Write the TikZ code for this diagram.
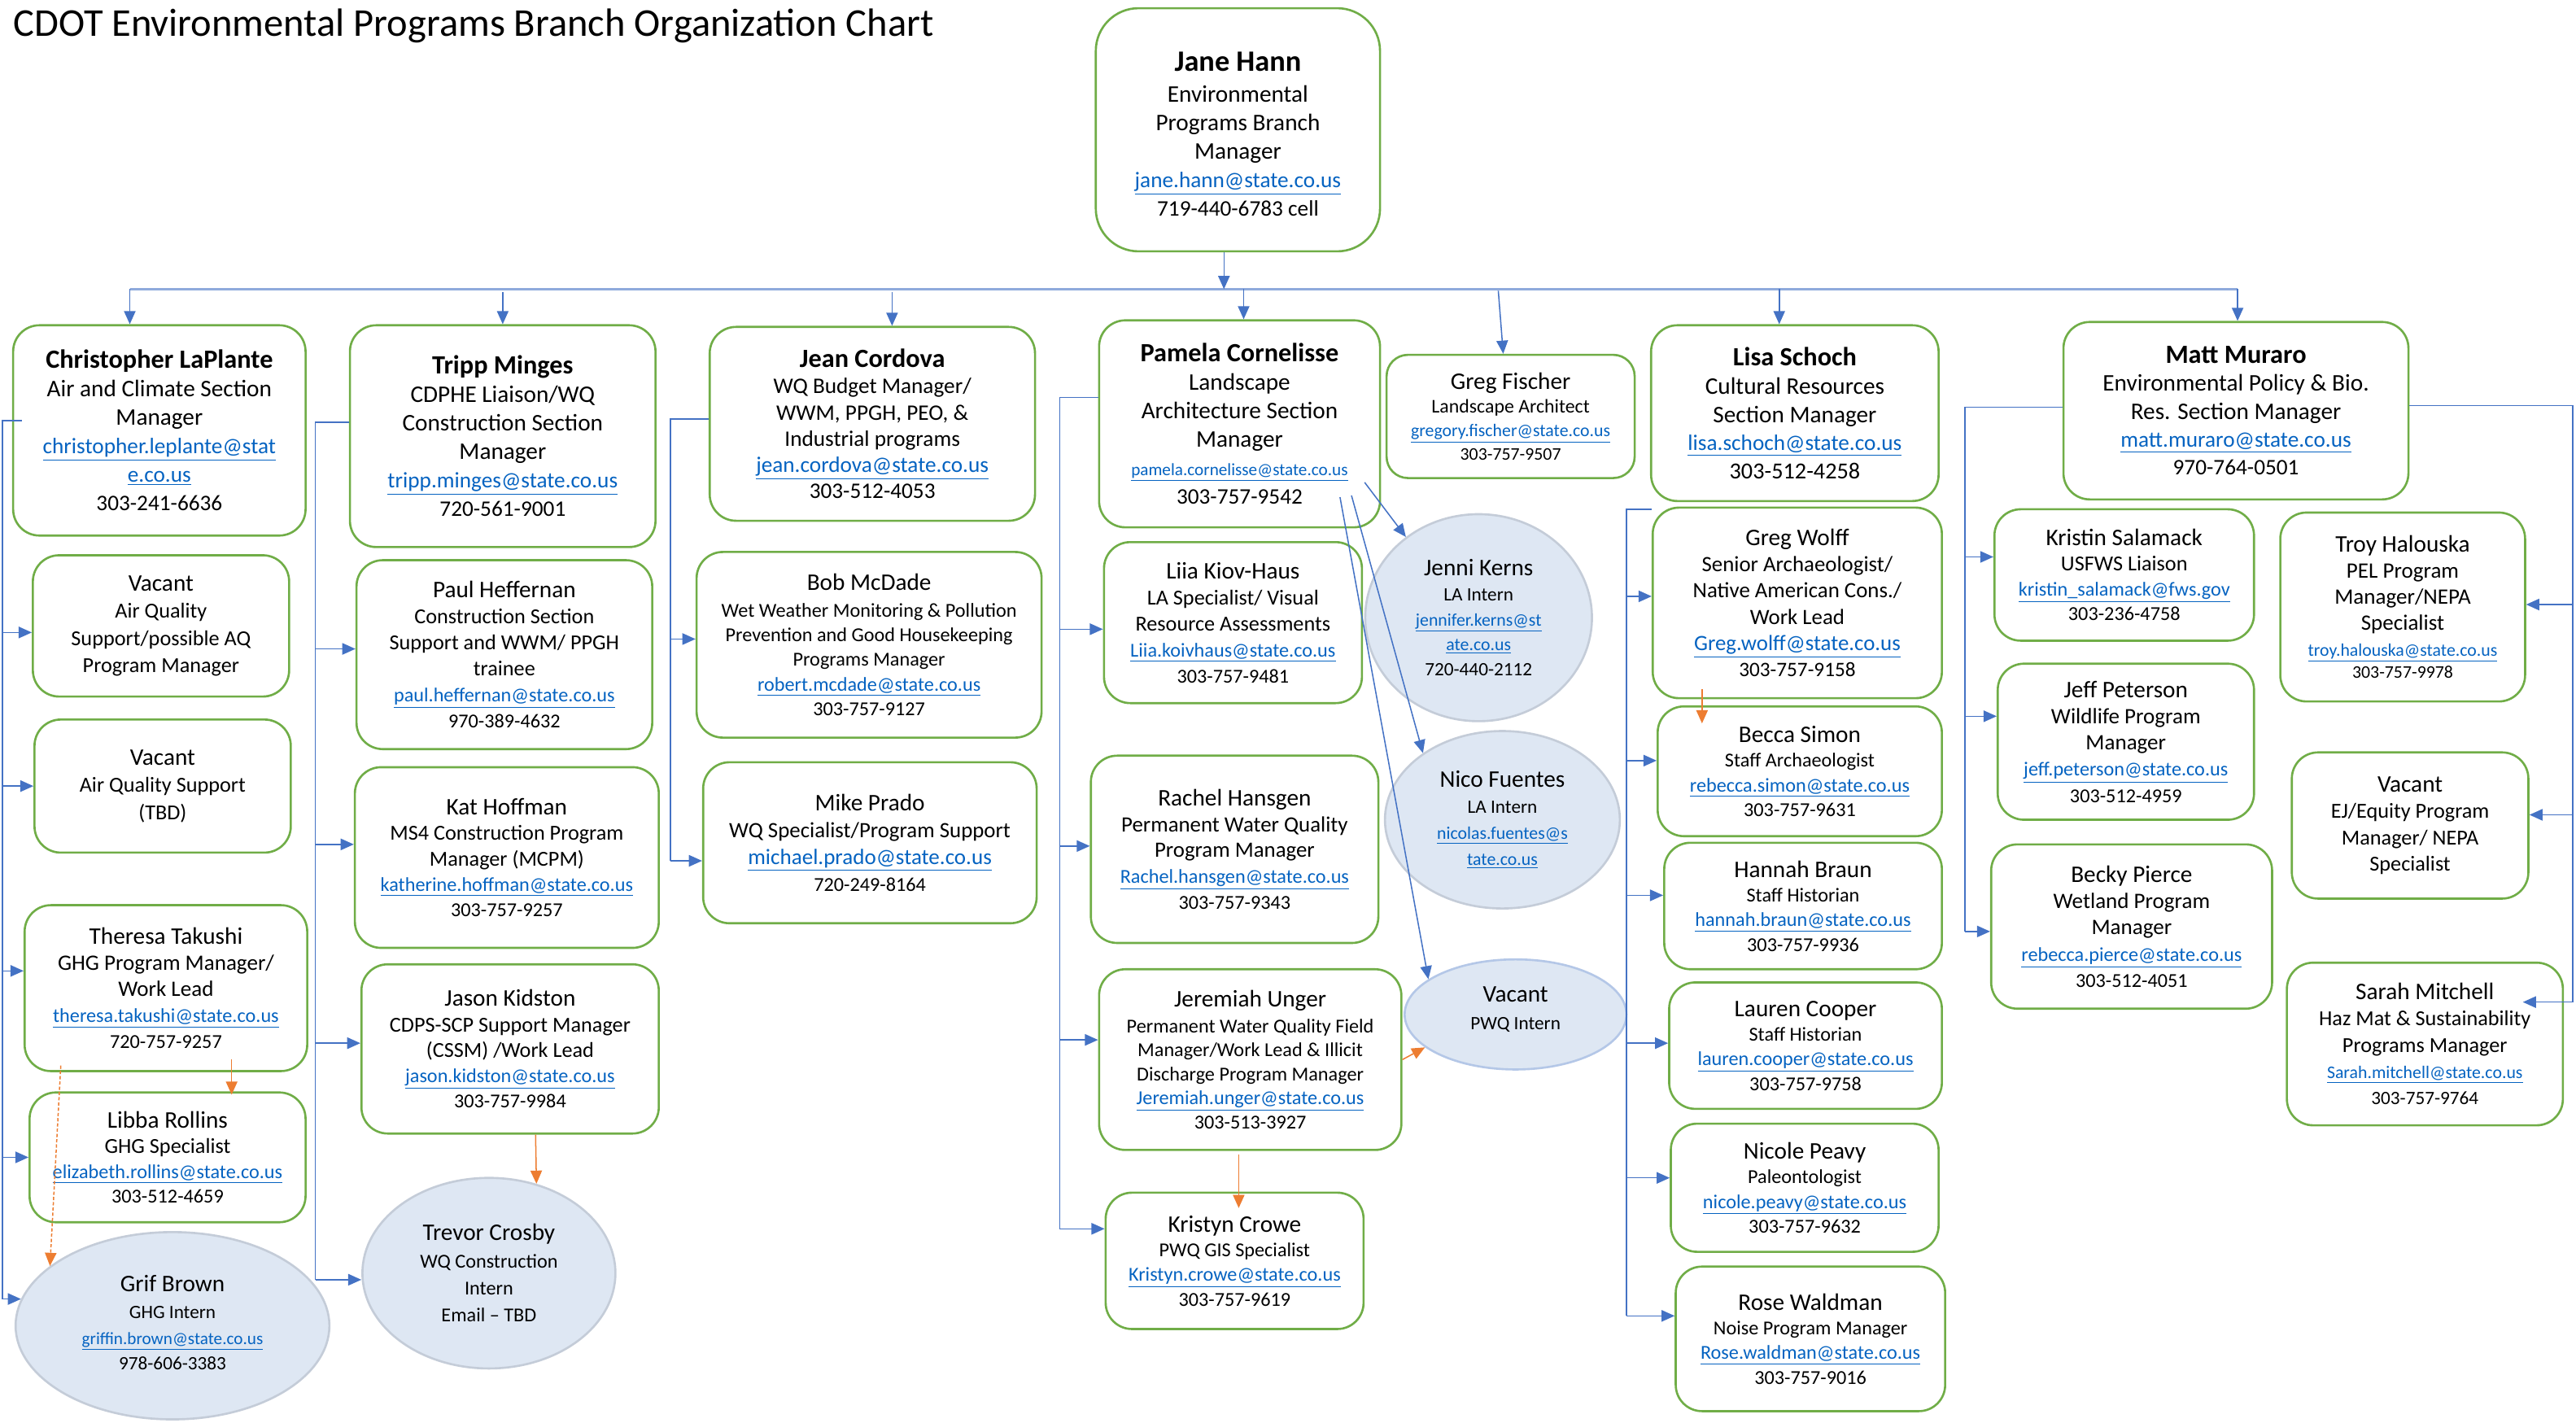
\documentclass[tikz,border=0pt]{standalone}
\usepackage{fontspec}
\setmainfont{Carlito}
\usetikzlibrary{shapes.geometric,arrows.meta}
\definecolor{grn}{HTML}{70AD47}
\definecolor{cblue}{HTML}{4472C4}
\definecolor{busblue}{HTML}{8FAADC}
\definecolor{lnk}{HTML}{0563C1}
\definecolor{ofill}{HTML}{DEE7F3}
\definecolor{oline}{HTML}{C4CCD8}
\definecolor{olinetwo}{HTML}{B4C7E7}
\definecolor{corange}{HTML}{ED7D31}
\newcommand\fsz[2]{\fontsize{#1}{#2}\selectfont}
\newcommand\bnm[2][16]{{\fsz{#1}{#1}\bfseries #2}}
\newcommand\nm[1]{{\fsz{14.5}{15}#1}}
\newcommand\lk[2]{{\fsz{#1}{#1}\textcolor{lnk}{\underline{#2}}}}
\newcommand\tx[2]{{\fsz{#1}{#1}#2}}
\tikzset{
 box/.style={draw=grn, line width=1.3pt, rounded corners=16pt, fill=white, align=center, inner sep=1pt},
 oval/.style={ellipse, draw=oline, line width=1.3pt, fill=ofill, inner sep=0pt},
 otext/.style={align=center, inner sep=0pt},
 conn/.style={cblue, line width=0.75pt},
 arr/.style={conn, -{Triangle[length=8pt,width=7pt]}},
 oarr/.style={corange, line width=0.75pt, -{Triangle[length=8pt,width=7pt]}},
 bus/.style={busblue, line width=1.6pt},
}
\begin{document}
\begin{tikzpicture}[x=1pt,y=-1pt]
\useasboundingbox (0,0) rectangle (1568,866);
\node[anchor=base west, inner sep=0pt, font=\fsz{24}{26}] (title) at (8,22) {CDOT Environmental Programs Branch Organization Chart};

% top
\node[box, rounded corners=26pt, minimum width=173pt, minimum height=148pt, font=\fsz{14.5}{17.4}] (jane) at (753.5,79)
 {\rule{0pt}{17pt}\bnm[18]{Jane Hann}\\[1.5pt] Environmental\\ Programs Branch\\ Manager\\ \lk{13.5}{jane.hann@state.co.us}\\ \tx{13.5}{719-440-6783 cell}};

% column 1
\node[box, minimum width=178pt, minimum height=128pt, font=\fsz{14.5}{17.3}] (chris) at (97,262)
 {\bnm{Christopher LaPlante}\\ Air and Climate Section\\ Manager\\ \lk{13.5}{christopher.leplante@stat}\\ \lk{13.5}{e.co.us}\\ \tx{13.5}{303-241-6636}};
\node[box, minimum width=156pt, minimum height=86pt, font=\fsz{13}{16.5}] (vac1) at (98,381)
 {\nm{Vacant}\\ Air Quality\\ Support/possible AQ\\ Program Manager};
\node[box, minimum width=156pt, minimum height=81pt, font=\fsz{13}{16.5}] (vac2) at (99,478.5)
 {\nm{Vacant}\\ Air Quality Support\\ (TBD)};
\node[box, minimum width=172pt, minimum height=101pt, font=\fsz{13.4}{15.8}] (theresa) at (101,601.5)
 {\nm{Theresa Takushi}\\ GHG Program Manager/\\ Work Lead\\ \lk{12}{theresa.takushi@state.co.us}\\ \tx{12}{720-757-9257}};
\node[box, minimum width=168pt, minimum height=79pt, font=\fsz{13}{15.3}] (libba) at (102,704.5)
 {\nm{Libba Rollins}\\ GHG Specialist\\ \lk{12}{elizabeth.rollins@state.co.us}\\ \tx{12}{303-512-4659}};
\node[oval, minimum width=191pt, minimum height=114pt] (grif) at (105,807) {};
\node[otext, font=\fsz{11.5}{15.5}] (grift) at ([yshift=2pt]grif.center)
 {\nm{Grif Brown}\\[1pt] GHG Intern\\ \lk{10.5}{griffin.brown@state.co.us}\\ 978-606-3383};

% column 2
\node[box, minimum width=186pt, minimum height=135pt, font=\fsz{14.5}{17.3}] (tripp) at (306,265.5)
 {\bnm{Tripp Minges}\\ CDPHE Liaison/WQ\\ Construction Section\\ Manager\\ \lk{13.5}{tripp.minges@state.co.us}\\ \tx{13.5}{720-561-9001}};
\node[box, minimum width=180pt, minimum height=115pt, font=\fsz{13}{15.8}] (paul) at (307,398.5)
 {\nm{Paul Heffernan}\\ Construction Section\\ Support and WWM/ PPGH\\ trainee\\ \lk{12}{paul.heffernan@state.co.us}\\ \tx{12}{970-389-4632}};
\node[box, minimum width=185pt, minimum height=110pt, font=\fsz{13}{15.5}] (kat) at (308.5,522)
 {\nm{Kat Hoffman}\\ MS4 Construction Program\\ Manager (MCPM)\\ \lk{12}{katherine.hoffman@state.co.us}\\ \tx{12}{303-757-9257}};
\node[box, minimum width=181pt, minimum height=103pt, font=\fsz{13}{15.5}] (jason) at (310.5,638.5)
 {\nm{Jason Kidston}\\ CDPS-SCP Support Manager\\ (CSSM) /Work Lead\\ \lk{12}{jason.kidston@state.co.us}\\ \tx{12}{303-757-9984}};
\node[oval, minimum width=154pt, minimum height=116pt] (trevor) at (297.6,775) {};
\node[otext, font=\fsz{12}{16.5}] (trevort) at (trevor.center)
 {\nm{Trevor Crosby}\\ WQ Construction\\ Intern\\ Email -- TBD};

% column 3
\node[box, minimum width=198pt, minimum height=118pt, font=\fsz{13.5}{16}] (jean) at (531,258)
 {\bnm{Jean Cordova}\\ WQ Budget Manager/\\ WWM, PPGH, PEO, \&\\ Industrial programs\\ \lk{13.5}{jean.cordova@state.co.us}\\ 303-512-4053};
\node[box, minimum width=210pt, minimum height=113pt, font=\fsz{12}{15}] (bob) at (529,392.5)
 {\nm{Bob McDade}\\[1pt] Wet Weather Monitoring \& Pollution\\ Prevention and Good Housekeeping\\ Programs Manager\\ \lk{12}{robert.mcdade@state.co.us}\\ 303-757-9127};
\node[box, minimum width=203pt, minimum height=98pt, font=\fsz{13.3}{16.3}] (mike) at (529.5,513)
 {\nm{Mike Prado}\\ WQ Specialist/Program Support\\ \lk{13.4}{michael.prado@state.co.us}\\ \tx{12}{720-249-8164}};

% column 4
\node[box, minimum width=171pt, minimum height=126pt, font=\fsz{14.5}{17.3}] (pamela) at (754.5,258)
 {\bnm{Pamela Cornelisse}\\ Landscape\\ Architecture Section\\ Manager\\ \lk{10.5}{pamela.cornelisse@state.co.us}\\ \tx{13.5}{303-757-9542}};
\node[box, minimum width=157pt, minimum height=98pt, font=\fsz{13}{15.8}] (liia) at (750.5,379)
 {\nm{Liia Kiov-Haus}\\ LA Specialist/ Visual\\ Resource Assessments\\ \lk{12}{Liia.koivhaus@state.co.us}\\ \tx{12}{303-757-9481}};
\node[box, minimum width=175pt, minimum height=114pt, font=\fsz{13.3}{15.8}] (rachel) at (751.5,517)
 {\nm{Rachel Hansgen}\\ Permanent Water Quality\\ Program Manager\\ \lk{12}{Rachel.hansgen@state.co.us}\\ \tx{12}{303-757-9343}};
\node[box, minimum width=184pt, minimum height=110pt, font=\fsz{12}{14.6}] (jeremiah) at (761,645)
 {\nm{Jeremiah Unger}\\[1pt] Permanent Water Quality Field\\ Manager/Work Lead \& Illicit\\ Discharge Program Manager\\ \lk{12}{Jeremiah.unger@state.co.us}\\ 303-513-3927};
\node[box, minimum width=157pt, minimum height=83pt, font=\fsz{12}{15}] (kristyn) at (751.5,767.5)
 {\nm{Kristyn Crowe}\\ PWQ GIS Specialist\\ \lk{12}{Kristyn.crowe@state.co.us}\\ 303-757-9619};

\node[box, rounded corners=13pt, minimum width=151pt, minimum height=75pt, font=\fsz{11.8}{14.3}] (fischer) at (919.5,253.5)
 {\nm{Greg Fischer}\\ Landscape Architect\\ \lk{10.8}{gregory.fischer@state.co.us}\\ \tx{10.8}{303-757-9507}};

% interns (ellipses)
\node[oval, minimum width=138pt, minimum height=126pt] (jenni) at (900,376) {};
\node[otext, font=\fsz{11.5}{15.2}] (jennit) at (jenni.center)
 {\nm{Jenni Kerns}\\ LA Intern\\ \lk{10.8}{jennifer.kerns@st}\\ \lk{10.8}{ate.co.us}\\ 720-440-2112};
\node[oval, minimum width=143pt, minimum height=108pt] (nico) at (914.5,499) {};
\node[otext, font=\fsz{11.5}{15.8}] (nicot) at (nico.center)
 {\nm{Nico Fuentes}\\ LA Intern\\ \lk{10.8}{nicolas.fuentes@s}\\ \lk{10.8}{tate.co.us}};
\node[oval, draw=olinetwo, minimum width=135pt, minimum height=67pt] (vacpwq) at (922.5,617.5) {};
\node[otext, font=\fsz{11.5}{17}] (vacpwqt) at ([yshift=3pt]vacpwq.center)
 {\nm{Vacant}\\ PWQ Intern};

% column 5
\node[box, minimum width=175pt, minimum height=107pt, font=\fsz{14.5}{17.3}] (lisa) at (1092.5,251.5)
 {\bnm{Lisa Schoch}\\ Cultural Resources\\ Section Manager\\ \lk{13.5}{lisa.schoch@state.co.us}\\ \tx{14}{303-512-4258}};
\node[box, minimum width=176pt, minimum height=116pt, font=\fsz{13.3}{16}] (wolff) at (1094,367)
 {\nm{Greg Wolff}\\ Senior Archaeologist/\\ Native American Cons./\\ Work Lead\\ \lk{13.3}{Greg.wolff@state.co.us}\\ \tx{12.5}{303-757-9158}};
\node[box, minimum width=173pt, minimum height=79pt, font=\fsz{12}{15}] (becca) at (1095.5,469.5)
 {\nm{Becca Simon}\\ Staff Archaeologist\\ \lk{12}{rebecca.simon@state.co.us}\\ 303-757-9631};
\node[box, minimum width=169pt, minimum height=77pt, font=\fsz{12}{15}] (hannah) at (1097.5,551.5)
 {\nm{Hannah Braun}\\ Staff Historian\\ \lk{12}{hannah.braun@state.co.us}\\ 303-757-9936};
\node[box, minimum width=166pt, minimum height=77pt, font=\fsz{12}{15}] (lauren) at (1099,636.5)
 {\nm{Lauren Cooper}\\ Staff Historian\\ \lk{12}{lauren.cooper@state.co.us}\\ 303-757-9758};
\node[box, minimum width=163pt, minimum height=78pt, font=\fsz{12}{15}] (nicole) at (1098.5,723)
 {\nm{Nicole Peavy}\\ Paleontologist\\ \lk{12}{nicole.peavy@state.co.us}\\ 303-757-9632};
\node[box, minimum width=164pt, minimum height=88pt, font=\fsz{12}{15}] (rose) at (1102,815)
 {\nm{Rose Waldman}\\ Noise Program Manager\\ \lk{12}{Rose.waldman@state.co.us}\\ 303-757-9016};

% column 6
\node[box, minimum width=210pt, minimum height=108pt, font=\fsz{14.5}{17}] (matt) at (1361,250)
 {\bnm{Matt Muraro}\\ Environmental Policy \& Bio.\\ Res. Section Manager\\ \lk{13.5}{matt.muraro@state.co.us}\\ \tx{13.5}{970-764-0501}};
\node[box, minimum width=158pt, minimum height=80pt, font=\fsz{13}{15.2}] (kristin) at (1293,350)
 {\nm{Kristin Salamack}\\ USFWS Liaison\\ \lk{12}{kristin\_salamack@fws.gov}\\ \tx{12}{303-236-4758}};
\node[box, minimum width=156pt, minimum height=95pt, font=\fsz{13.4}{16}] (jeff) at (1294,451.5)
 {\nm{Jeff Peterson}\\ Wildlife Program\\ Manager\\ \lk{12}{jeff.peterson@state.co.us}\\ \tx{12}{303-512-4959}};
\node[box, minimum width=171pt, minimum height=100pt, font=\fsz{13.4}{16}] (becky) at (1297.5,564)
 {\nm{Becky Pierce}\\ Wetland Program\\ Manager\\ \lk{12}{rebecca.pierce@state.co.us}\\ \tx{12}{303-512-4051}};
\node[box, minimum width=149pt, minimum height=115pt, font=\fsz{13.4}{15.8}] (troy) at (1462.5,369.5)
 {\nm{Troy Halouska}\\ PEL Program\\ Manager/NEPA\\ Specialist\\ \lk{10.8}{troy.halouska@state.co.us}\\[-2pt] \tx{10.8}{303-757-9978}};
\node[box, minimum width=144pt, minimum height=89pt, font=\fsz{13}{16}] (vacej) at (1467,502.5)
 {\nm{Vacant}\\ EJ/Equity Program\\ Manager/ NEPA\\ Specialist};
\node[box, minimum width=168pt, minimum height=99pt, font=\fsz{13}{16}] (sarah) at (1476,635.5)
 {\nm{Sarah Mitchell}\\ Haz Mat \& Sustainability\\ Programs Manager\\ \lk{10.8}{Sarah.mitchell@state.co.us}\\ \tx{11.5}{303-757-9764}};

% ---------- bus ----------
\coordinate (busL) at (79,176);
\coordinate (busR) at (1362,176);
\draw[bus] (busL) -- (busR);
\coordinate (bj) at (745,176);
\draw[arr] (bj |- jane.south) -- (bj);
\coordinate (b2) at (306,178);
\coordinate (b3) at (543,178);
\coordinate (b4) at (757,176);
\coordinate (b5) at (912,177);
\coordinate (b6) at (1083,176);
\draw[arr] (busL) -- (busL |- chris.north);
\draw[arr] (b2) -- (b2 |- tripp.north);
\draw[arr] (b3) -- (b3 |- jean.north);
\draw[arr] (b4) -- (b4 |- pamela.north);
\draw[arr] (b5) -- ([xshift=-4.5pt]fischer.north);
\draw[arr] (b6) -- (b6 |- lisa.north);
\draw[arr] (busR) -- (busR |- matt.north);

% ---------- column 1 ----------
\coordinate (k1) at (1.5,256);
\path ([yshift=-4pt]vac1.west) coordinate (a11)
      (vac2.west) coordinate (a12)
      ([yshift=10.5pt]theresa.west) coordinate (a13)
      (libba.west) coordinate (a14)
      (grif.170) coordinate (a15);
\draw[conn] ([xshift=6pt]chris.west |- k1) -- (k1) -- (k1 |- a15);
\foreach \i in {11,...,15} {\draw[arr] (k1 |- a\i) -- (a\i);}

% ---------- column 2 ----------
\coordinate (k2) at (192,257);
\path ([yshift=3.5pt]paul.west) coordinate (a21)
      ([yshift=8pt]kat.west) coordinate (a22)
      ([yshift=3.5pt]jason.west) coordinate (a23)
      ([yshift=-4pt]trevor.west) coordinate (a24);
\draw[conn] (tripp.west |- k2) -- (k2) -- (k2 |- a24);
\foreach \i in {21,...,24} {\draw[arr] (k2 |- a\i) -- (a\i);}

% ---------- column 3 ----------
\coordinate (k3) at (408,255);
\path ([yshift=3.5pt]bob.west) coordinate (a31)
      ([yshift=-11pt]mike.west) coordinate (a32);
\draw[conn] (jean.west |- k3) -- (k3) -- (k3 |- a32);
\foreach \i in {31,32} {\draw[arr] (k3 |- a\i) -- (a\i);}

% ---------- column 4 ----------
\coordinate (k4) at (645,242);
\path ([yshift=-4pt]liia.west) coordinate (a41)
      ([yshift=2pt]rachel.west) coordinate (a42)
      ([yshift=12pt]jeremiah.west) coordinate (a43)
      ([yshift=19.5pt]kristyn.west) coordinate (a44);
\draw[conn] (pamela.west |- k4) -- (k4) -- (k4 |- a44);
\foreach \i in {41,...,44} {\draw[arr] (k4 |- a\i) -- (a\i);}

% ---------- column 5 ----------
\coordinate (k5) at (990,310);
\path ([yshift=4pt]wolff.west) coordinate (a51)
      ([yshift=6.5pt]becca.west) coordinate (a52)
      ([yshift=6.5pt]hannah.west) coordinate (a53)
      ([yshift=1.5pt]lauren.west) coordinate (a54)
      ([yshift=6pt]nicole.west) coordinate (a55)
      ([yshift=14pt]rose.west) coordinate (a56);
\draw[conn] ([xshift=1pt]lisa.west |- k5) -- (k5) -- (k5 |- a56);
\foreach \i in {51,...,56} {\draw[arr] (k5 |- a\i) -- (a\i);}

% ---------- column 6 ----------
\coordinate (k6) at (1196,248);
\path ([yshift=11pt]kristin.west) coordinate (a61)
      ([yshift=15.5pt]jeff.west) coordinate (a62)
      ([yshift=-3pt]becky.west) coordinate (a63);
\draw[conn] (matt.west |- k6) -- (k6) -- (k6 |- a63);
\foreach \i in {61,...,63} {\draw[arr] (k6 |- a\i) -- (a\i);}

\coordinate (k7) at (1566,247);
\path ([yshift=1.5pt]troy.east) coordinate (a71)
      ([yshift=6.5pt]vacej.east) coordinate (a72)
      ([xshift=-25pt,yshift=25.5pt]sarah.east) coordinate (a73);
\draw[conn] (matt.east |- k7) -- (k7) -- (k7 |- a73);
\foreach \i in {71,...,73} {\draw[arr] (k7 |- a\i) -- (a\i);}

% ---------- Pamela to interns ----------
\draw[arr] ([xshift=-10pt,yshift=28pt]pamela.south east) -- (jenni.132);
\draw[arr] ([xshift=-18pt,yshift=20pt]pamela.south east) -- (nico.140);
\draw[arr] ([xshift=-25pt,yshift=19pt]pamela.south east) -- (vacpwq.158);

% ---------- orange (work lead) ----------
\draw[oarr] ([xshift=40pt,yshift=8pt]theresa.south) -- ([xshift=39pt,yshift=-2pt]libba.north);
\draw[oarr, dash pattern=on 2pt off 1.2pt] ([xshift=-64pt,yshift=4pt]theresa.south) -- (grif.154);
\draw[oarr] ([xshift=15.5pt]jason.south) -- (trevor.62);
\draw[oarr] ([xshift=-7pt,yshift=-2pt]jeremiah.south) -- ([xshift=2.5pt,yshift=-10pt]kristyn.north);
\draw[oarr] (jeremiah.east) -- (vacpwq.200);
\draw[oarr] ([xshift=-58pt,yshift=6pt]wolff.south) -- ([xshift=-59.5pt,yshift=-11pt]becca.north);
\end{tikzpicture}
\end{document}
